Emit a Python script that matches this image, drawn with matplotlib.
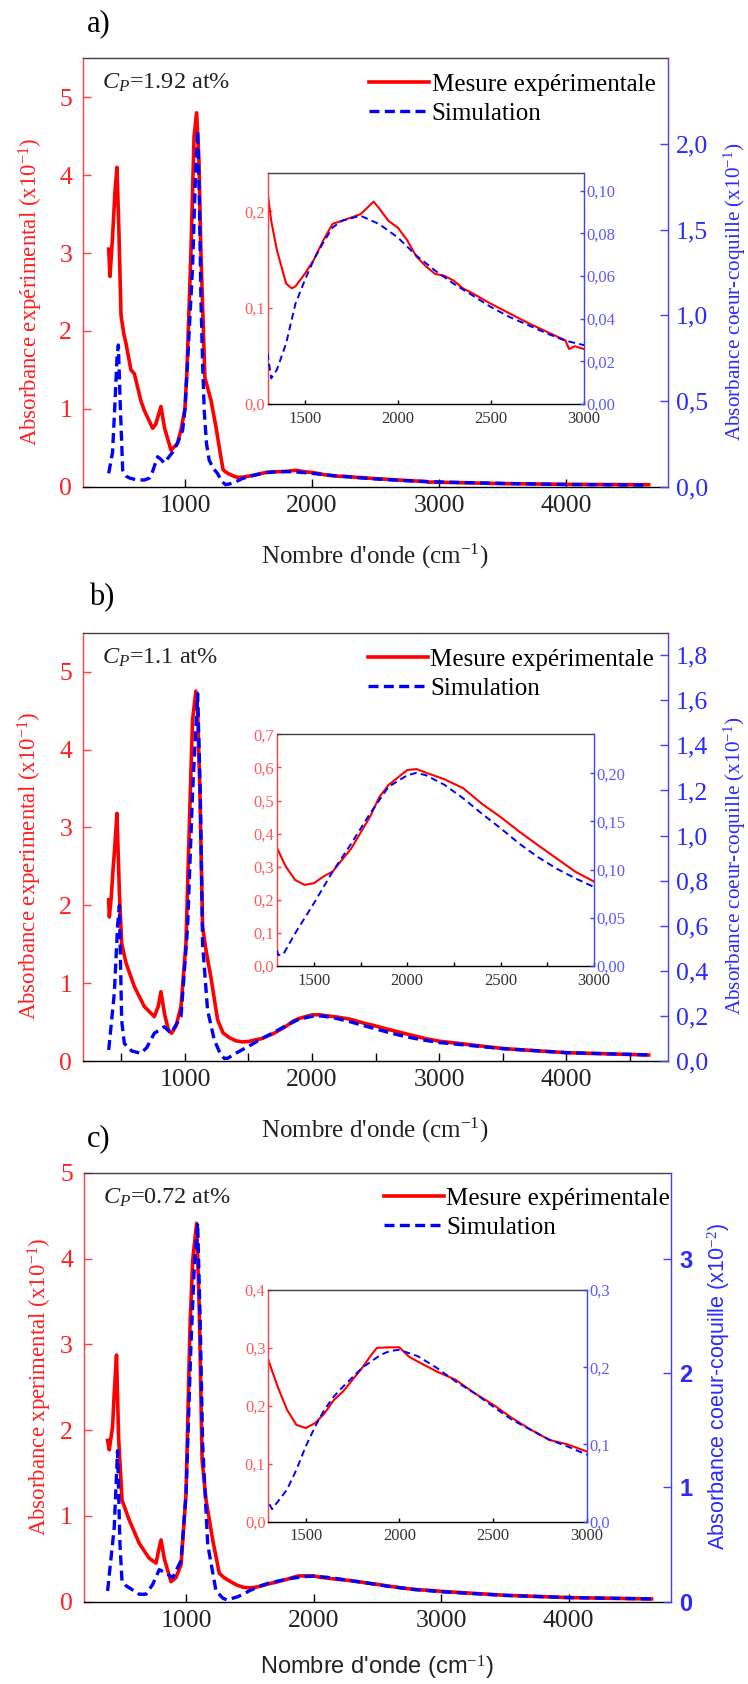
import numpy as np
import matplotlib
matplotlib.use("Agg")
import matplotlib.pyplot as plt
from matplotlib.lines import Line2D

# ---------------------------------------------------------------------------
# Données (nombre d'onde en cm-1)
# absorbance expérimentale : axe gauche (x10^-1)
# absorbance coeur-coquille simulée : axe droit
# ---------------------------------------------------------------------------

# a) Cp = 1.92 at%
xa_exp = [400, 410, 430, 450, 465, 480, 497, 520, 536, 575, 602, 654, 680, 746, 770,
          811, 840, 890, 940, 969, 1000, 1016, 1047, 1072, 1092, 1110, 1126, 1157, 1205,
          1244, 1283, 1300, 1320, 1350, 1400, 1430, 1450, 1500, 1550, 1600, 1650, 1700,
          1800, 1870, 1900, 1950, 2000, 2050, 2100, 2150, 2200, 2250, 2300, 2350, 2400,
          2500, 2600, 2700, 2800, 2900, 2920, 2950, 3000, 3500, 4000, 4650]
ya_exp = [3.05, 2.7, 3.2, 3.8, 4.1, 3.3, 2.2, 1.95, 1.84, 1.5, 1.45, 1.1, 0.98, 0.75, 0.8,
          1.03, 0.75, 0.47, 0.55, 0.73, 1.0, 1.5, 3.0, 4.5, 4.8, 4.2, 3.0, 1.4, 1.11,
          0.77, 0.38, 0.22, 0.19, 0.16, 0.125, 0.12, 0.122, 0.135, 0.15, 0.17, 0.187, 0.19,
          0.197, 0.21, 0.203, 0.19, 0.183, 0.17, 0.153, 0.143, 0.135, 0.133, 0.128, 0.12, 0.115,
          0.104, 0.094, 0.084, 0.075, 0.066, 0.057, 0.06, 0.057, 0.04, 0.03, 0.025]
xa_sim = [400, 430, 450, 465, 476, 490, 510, 540, 567, 620, 680, 720, 746, 785, 810,
          838, 870, 916, 950, 982, 1000, 1021, 1040, 1060, 1080, 1100, 1113, 1126, 1140,
          1152, 1170, 1191, 1220, 1256, 1290, 1320, 1350, 1400, 1450, 1500, 1550, 1600,
          1650, 1700, 1800, 1900, 2000, 2100, 2200, 2300, 2400, 2500, 2600, 2700, 2800,
          2900, 3000, 3500, 4000, 4650]
ya_sim = [0.078, 0.2, 0.5, 0.75, 0.827, 0.5, 0.097, 0.06, 0.05, 0.04, 0.039, 0.05, 0.09, 0.175, 0.16,
          0.138, 0.17, 0.214, 0.27, 0.33, 0.45, 0.73, 1.0, 1.28, 1.75, 2.08, 1.7, 1.09, 0.7,
          0.44, 0.25, 0.155, 0.11, 0.078, 0.03, 0.012, 0.016, 0.0284, 0.047, 0.058, 0.068, 0.0758,
          0.0828, 0.086, 0.0883, 0.0844, 0.0781, 0.0696, 0.0626, 0.0564, 0.051, 0.0455, 0.0408, 0.037, 0.0331,
          0.0297, 0.0276, 0.019, 0.013, 0.009]

# b) Cp = 1.1 at%
xb_exp = [400, 405, 420, 432, 450, 465, 484, 502, 536, 602, 680, 759, 790, 811, 840,
          870, 895, 930, 969, 1008, 1042, 1060, 1086, 1100, 1118, 1139, 1165, 1204, 1257,
          1300, 1350, 1400, 1450, 1500, 1550, 1600, 1700, 1800, 1850, 1900, 2000, 2050,
          2100, 2200, 2300, 2400, 2500, 2600, 2700, 2800, 2900, 3000, 3500, 4000, 4650]
yb_exp = [2.07, 1.85, 2.1, 2.41, 2.8, 3.18, 2.16, 1.51, 1.26, 0.955, 0.7, 0.57, 0.7, 0.89, 0.6,
          0.4, 0.356, 0.45, 0.7, 1.51, 3.44, 4.38, 4.75, 4.5, 3.44, 1.73, 1.43, 1.08, 0.53,
          0.36, 0.3, 0.26, 0.245, 0.25, 0.27, 0.285, 0.355, 0.45, 0.51, 0.547, 0.592, 0.595,
          0.584, 0.564, 0.537, 0.49, 0.45, 0.406, 0.365, 0.325, 0.285, 0.255, 0.16, 0.107, 0.077]
xb_sim = [400, 444, 470, 484, 502, 523, 580, 654, 700, 759, 838, 890, 969, 1021, 1060,
          1100, 1121, 1139, 1178, 1231, 1280, 1310, 1336, 1400, 1500, 1600, 1700, 1800,
          1900, 2000, 2050, 2100, 2200, 2300, 2400, 2500, 2600, 2700, 2800, 2900, 3000,
          3500, 4000, 4650]
yb_sim = [0.049, 0.3, 0.6, 0.69, 0.18, 0.078, 0.045, 0.034, 0.06, 0.123, 0.152, 0.123, 0.197, 0.596, 1.19,
          1.63, 1.19, 0.52, 0.226, 0.093, 0.03, 0.0114, 0.012, 0.034, 0.065, 0.0978, 0.127, 0.158,
          0.186, 0.198, 0.2005, 0.198, 0.188, 0.174, 0.158, 0.143, 0.127, 0.113, 0.101, 0.091, 0.082,
          0.055, 0.037, 0.027]

# c) Cp = 0.72 at%
xc_exp = [385, 398, 424, 437, 455, 471, 498, 555, 633, 712, 765, 785, 804, 830, 882,
          920, 961, 1000, 1031, 1052, 1083, 1104, 1126, 1157, 1209, 1261, 1300, 1350, 1400,
          1450, 1500, 1550, 1600, 1650, 1700, 1750, 1800, 1850, 1880, 1950, 2000, 2050,
          2100, 2200, 2300, 2400, 2500, 2600, 2700, 2800, 2900, 3000, 3500, 4000, 4650]
yc_exp = [1.88, 1.77, 2.04, 2.43, 2.875, 1.92, 1.185, 0.95, 0.68, 0.505, 0.45, 0.6, 0.72, 0.5, 0.233,
          0.28, 0.43, 1.26, 3.2, 3.98, 4.41, 3.4, 1.65, 1.185, 0.72, 0.33, 0.279, 0.233, 0.193,
          0.167, 0.1615, 0.17, 0.187, 0.21, 0.225, 0.245, 0.265, 0.288, 0.3, 0.301, 0.301, 0.285,
          0.276, 0.259, 0.245, 0.222, 0.202, 0.179, 0.159, 0.141, 0.133, 0.121, 0.075, 0.048, 0.032]
xc_sim = [385, 437, 463, 482, 498, 529, 633, 686, 738, 790, 843, 895, 961, 1000, 1039,
          1065, 1091, 1112, 1130, 1170, 1235, 1290, 1320, 1400, 1450, 1500, 1550, 1600,
          1650, 1700, 1800, 1900, 1950, 2000, 2100, 2200, 2300, 2400, 2500, 2600, 2700,
          2800, 2900, 3000, 3500, 4000, 4650]
yc_sim = [0.094, 0.65, 1.32, 0.5, 0.18, 0.14, 0.065, 0.065, 0.15, 0.28, 0.25, 0.21, 0.36, 0.94, 2.26,
          2.93, 3.31, 2.4, 1.38, 0.5, 0.094, 0.03, 0.016, 0.0414, 0.067, 0.0974, 0.123, 0.145,
          0.162, 0.175, 0.199, 0.216, 0.221, 0.2225, 0.214, 0.199, 0.1815, 0.1665, 0.149, 0.132, 0.119,
          0.106, 0.097, 0.0867, 0.055, 0.036, 0.024]

# textes
lettres = ["a)", "b)", "c)"]
cp_textes = [r"$C_P$=1.92 at%", r"$C_P$=1.1 at%", r"$C_P$=0.72 at%"]
ylab_gauche = ["Absorbance expérimental (x10$^{-1}$)",
               "Absorbance experimental (x10$^{-1}$)",
               "Absorbance xperimental (x10$^{-1}$)"]
ylab_droite = ["Absorbance coeur-coquille (x10$^{-1}$)",
               "Absorbance coeur-coquille (x10$^{-1}$)",
               "Absorbance coeur-coquille (x10$^{-2}$)"]
xlab = "Nombre d'onde (cm$^{-1}$)"
legende = ["Mesure expérimentale", "Simulation"]

# graduations
main_xticks = [1000, 2000, 3000, 4000]
main_lticks = [0, 1, 2, 3, 4, 5]
a_rticks = [0.0, 0.5, 1.0, 1.5, 2.0]
b_rticks = [0.0, 0.2, 0.4, 0.6, 0.8, 1.0, 1.2, 1.4, 1.6, 1.8]
c_rticks = [0, 1, 2, 3]
ins_xticks = [1500, 2000, 2500, 3000]
a_ins_l = [0.0, 0.1, 0.2]
a_ins_r = [0.00, 0.02, 0.04, 0.06, 0.08, 0.10]
b_ins_l = [0.0, 0.1, 0.2, 0.3, 0.4, 0.5, 0.6, 0.7]
b_ins_r = [0.00, 0.05, 0.10, 0.15, 0.20]
c_ins_l = [0.0, 0.1, 0.2, 0.3, 0.4]
c_ins_r = [0.0, 0.1, 0.2, 0.3]

# ---------------------------------------------------------------------------
plt.rcParams["font.family"] = ["Liberation Serif", "DejaVu Serif"]
plt.rcParams["mathtext.fontset"] = "custom"
plt.rcParams["mathtext.rm"] = "Liberation Serif"
plt.rcParams["mathtext.it"] = "Liberation Serif:italic"

ROUGE = "#ff0000"
BLEU = "#0000ff"
W, H = 748, 1684
TXT = 18          # taille des textes principaux
TICK = 18.5       # graduations principales

fig = plt.figure(figsize=(W / 100, H / 100), dpi=100)


def boite(l, t, r, b):
    return [l / W, 1 - b / H, (r - l) / W, (b - t) / H]


def fx(px):
    return px / W


def fy(py):
    return 1 - py / H


def virgule(vals, fmt):
    return [fmt.format(v).replace(".", ",") for v in vals]


def habiller(ax, ax2):
    ax.spines["right"].set_visible(False)
    for s in ["left", "top", "bottom"]:
        ax2.spines[s].set_visible(False)
    ax.spines["left"].set_color("#ff4040")
    ax2.spines["right"].set_color("#4040ff")
    ax.spines["top"].set_color("#404040")
    ax.spines["bottom"].set_color("#000000")
    for s in ax.spines.values():
        s.set_linewidth(1.0)
    ax2.spines["right"].set_linewidth(1.0)


def panneau(box, ins_box, xe, ye, xs, ys, ylim_l, ylim_r, rticks, rlabels,
            ins_ylim_l, ins_ylim_r, ins_l, ins_lfmt, ins_r, ins_rfmt,
            minor_main=False, minor_ins=False, droite_sans=False):
    ax = fig.add_axes(boite(*box))
    ax2 = ax.twinx()
    l1, = ax.plot(xe, ye, color=ROUGE, lw=2.6, zorder=3)
    l2, = ax2.plot(xs, ys, color=BLEU, lw=2.4, dashes=(3, 1.6), zorder=3)
    ax.set_xlim(200, 4800)
    ax.set_ylim(*ylim_l)
    ax2.set_ylim(*ylim_r)
    habiller(ax, ax2)

    ax.set_xticks(main_xticks)
    ax.set_xticklabels([str(v) for v in main_xticks])
    if minor_main:
        ax.set_xticks([500, 1500, 2500, 3500, 4500], minor=True)
    ax.set_yticks(main_lticks)
    ax.set_yticklabels([str(v) for v in main_lticks])
    ax2.set_yticks(rticks)
    ax2.set_yticklabels(rlabels)

    ax.tick_params(axis="x", which="both", direction="in", length=6, width=1,
                   colors="#000000", labelcolor="#222222", labelsize=TICK, pad=6)
    ax.tick_params(axis="y", direction="in", length=6, width=1, colors="#ff4040",
                   labelcolor="#ff2020", labelsize=TICK, pad=8)
    ax2.tick_params(axis="y", direction="in", length=6, width=1, colors="#4040ff",
                    labelcolor="#2a2aff", labelsize=TICK, pad=6)
    if droite_sans:
        for t in ax2.get_yticklabels():
            t.set_family("Liberation Sans")
            t.set_fontweight("bold")
            t.set_fontsize(17)

    # encart
    ai = fig.add_axes(boite(*ins_box))
    ai2 = ai.twinx()
    ai.plot(xe, ye, color=ROUGE, lw=1.5)
    ai2.plot(xs, ys, color=BLEU, lw=1.4, dashes=(3.5, 2.2))
    ai.set_xlim(1300, 3000)
    ai.set_ylim(*ins_ylim_l)
    ai2.set_ylim(*ins_ylim_r)
    habiller(ai, ai2)
    ai.set_xticks(ins_xticks)
    ai.set_xticklabels([str(v) for v in ins_xticks])
    if minor_ins:
        ai.set_xticks([1750, 2250, 2750], minor=True)
    ai.set_yticks(ins_l)
    ai.set_yticklabels(virgule(ins_l, ins_lfmt))
    ai2.set_yticks(ins_r)
    ai2.set_yticklabels(virgule(ins_r, ins_rfmt))
    ai.tick_params(axis="x", which="both", direction="in", length=3, width=1,
                   colors="#000000", labelcolor="#333333", labelsize=12, pad=5)
    ai.tick_params(axis="y", direction="in", length=3, width=1, colors="#ff4040",
                   labelcolor="#ff5a5a", labelsize=12, pad=2)
    ai2.tick_params(axis="y", direction="in", length=3, width=1, colors="#4040ff",
                    labelcolor="#5a5aff", labelsize=12, pad=2)
    return ax, ax2, l1, l2


def legende_panneau(ax2, l1, l2, x0, y0):
    ax2.legend([l1, l2], legende, loc="upper left", bbox_to_anchor=(fx(x0), fy(y0)),
               bbox_transform=fig.transFigure, frameon=False, borderpad=0,
               handlelength=2.4, handletextpad=0.12, labelspacing=0.26,
               fontsize=TXT)


# ---------------------------------------------------------------------------
# a)
ax, ax2, l1, l2 = panneau((83.3, 58.3, 667.7, 486.7), (267.5, 172.7, 584, 404),
                          xa_exp, ya_exp, xa_sim, ya_sim, (0, 5.5), (0, 2.5),
                          a_rticks, virgule(a_rticks, "{:.1f}"),
                          (0, 0.24), (0, 0.1085), a_ins_l, "{:.1f}", a_ins_r, "{:.2f}")
legende_panneau(ax2, l1, l2, 356, 61)
fig.text(fx(101.7), fy(83.3), cp_textes[0], fontsize=17.5, va="center", ha="left", color="#222222")
fig.text(fx(87), fy(24), lettres[0], fontsize=22, va="center", ha="left")
fig.text(fx(31), fy(292), ylab_gauche[0], rotation=90, fontsize=16.5, color="#ff2020",
         ha="center", va="center")
fig.text(fx(735), fy(292), ylab_droite[0], rotation=90, fontsize=15.3, color="#2a2aff",
         ha="center", va="center")
fig.text(fx(375), fy(556), xlab, fontsize=TXT, ha="center", va="center", color="#222222")

# b)
ax, ax2, l1, l2 = panneau((83.3, 632.7, 667.7, 1061), (276.5, 734.3, 594, 966),
                          xb_exp, yb_exp, xb_sim, yb_sim, (0, 5.5), (0, 1.9),
                          b_rticks, virgule(b_rticks, "{:.1f}"),
                          (0, 0.7), (0, 0.2405), b_ins_l, "{:.1f}", b_ins_r, "{:.2f}",
                          minor_main=True, minor_ins=True)
legende_panneau(ax2, l1, l2, 355, 636)
fig.text(fx(101.7), fy(658.3), cp_textes[1], fontsize=17.5, va="center", ha="left", color="#222222")
fig.text(fx(89), fy(598), lettres[1], fontsize=22, va="center", ha="left")
fig.text(fx(30), fy(866), ylab_gauche[1], rotation=90, fontsize=16.5, color="#ff2020",
         ha="center", va="center")
fig.text(fx(735), fy(866), ylab_droite[1], rotation=90, fontsize=15.3, color="#2a2aff",
         ha="center", va="center")
fig.text(fx(375), fy(1130), xlab, fontsize=TXT, ha="center", va="center", color="#222222")

# c)
ax, ax2, l1, l2 = panneau((84, 1172.7, 670.7, 1601.7), (268.3, 1290, 586.7, 1521.5),
                          xc_exp, yc_exp, xc_sim, yc_sim, (0, 5), (0, 3.75),
                          c_rticks, [str(v) for v in c_rticks],
                          (0, 0.4), (0, 0.3), c_ins_l, "{:.1f}", c_ins_r, "{:.1f}",
                          droite_sans=True)
legende_panneau(ax2, l1, l2, 371, 1174.5)
fig.text(fx(103), fy(1198.3), cp_textes[2], fontsize=17.5, va="center", ha="left", color="#222222")
fig.text(fx(87), fy(1139), lettres[2], fontsize=22, va="center", ha="left")
fig.text(fx(40), fy(1387), ylab_gauche[2], rotation=90, fontsize=16.5, color="#ff2020",
         ha="center", va="center")
fig.text(fx(719), fy(1387), ylab_droite[2], rotation=90, fontsize=15.5, color="#2a2aff",
         ha="center", va="center", family="Liberation Sans")
fig.text(fx(376.5), fy(1668), xlab, fontsize=17, ha="center", va="center", color="#222222",
         family="Liberation Sans")

fig.savefig("out.png", dpi=100)
